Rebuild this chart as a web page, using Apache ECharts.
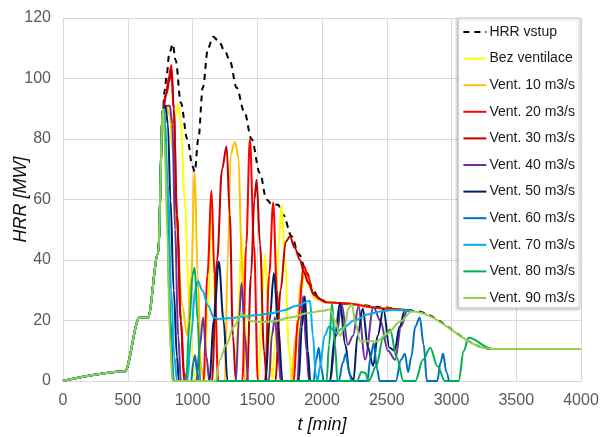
<!DOCTYPE html>
<html>
<head>
<meta charset="utf-8">
<script src="https://cdn.jsdelivr.net/npm/echarts@6/dist/echarts.min.js"></script>
<style>
  html, body { margin: 0; padding: 0; background: #fff; }
  #chart { width: 601px; height: 437px; }
</style>
</head>
<body>
<div id="chart"></div>
<script>
// x axis ticks and y axis ticks
const xTicks = [0, 500, 1000, 1500, 2000, 2500, 3000, 3500, 4000];
const yTicks = [0, 20, 40, 60, 80, 100, 120];

// shared growth phase [t, HRR]
const rampUp = [[0, 0], [476, 3.1], [592, 21], [656, 21], [734, 42], [772, 90]];

// shared plateau after the oscillations
const plateau = [[2030, 26], [2150, 25.8], [2480, 24], [2694, 23.2]];

const hrrInput = [[785, 96], [800, 101], [820, 108], [847, 111.4], [870, 106], [910, 92], [960, 80],
  [1000, 71], [1017, 69.2], [1045, 80], [1080, 97], [1120, 110], [1159, 113.8], [1200, 112.5],
  [1250, 109], [1288, 106], [1340, 97], [1400, 89], [1456, 80], [1520, 68.8], [1572, 60],
  [1610, 58.5], [1660, 58.3], [1700, 55], [1766, 47.8], [1820, 42], [1882, 35.8], [1930, 30],
  [1980, 27], [2030, 26], [2250, 25.3], [2480, 24.3], [2694, 23.2], [3313, 10.6], [4000, 10.6]];

const noVent = [[790, 91], [825, 90], [845, 84], [870, 88], [890, 91.6], [910, 85], [940, 60],
  [975, 25], [1000, 8], [1020, 0], [1090, 0], [1120, 25], [1147, 56], [1175, 25], [1200, 0],
  [1330, 0], [1355, 25], [1379, 48], [1405, 25], [1425, 0], [1510, 0], [1535, 25], [1559, 42],
  [1590, 20], [1615, 0], [1635, 10], [1665, 45], [1688, 58], [1715, 40], [1745, 10], [1770, 0],
  [1800, 10], [1840, 30], [1868, 37], [1900, 31], [1950, 27]];

const vent10 = [[790, 91], [825, 88], [850, 75], [880, 50], [920, 25], [960, 15], [990, 35],
  [1017, 69], [1040, 35], [1065, 5], [1090, 0], [1250, 0], [1272, 40], [1295, 75], [1327, 79],
  [1355, 74], [1380, 40], [1405, 0], [1760, 0], [1800, 15], [1840, 33], [1870, 37], [1900, 32],
  [1940, 28]];

const vent20 = [[795, 95], [815, 100], [837, 104.5], [855, 90], [880, 55], [910, 20], [935, 3],
  [950, 0], [1085, 0], [1115, 35], [1147, 63], [1170, 35], [1198, 0], [1385, 0], [1415, 45],
  [1443, 80], [1475, 45], [1505, 0], [1560, 0], [1592, 35], [1623, 59], [1652, 30], [1680, 0],
  [1780, 0], [1815, 20], [1860, 38], [1890, 35], [1930, 29], [1980, 27]];

const vent30 = [[800, 95], [820, 99], [837, 103], [855, 90], [880, 55], [910, 20], [935, 0],
  [1150, 0], [1190, 40], [1228, 70], [1263, 77.5], [1288, 55], [1312, 15], [1335, 0], [1420, 0],
  [1452, 35], [1478, 60], [1495, 66.5], [1522, 45], [1552, 10], [1575, 0], [1640, 0], [1680, 30],
  [1720, 46], [1752, 47.8], [1790, 44], [1830, 40], [1860, 36], [1894, 32.4], [1940, 28.5],
  [1998, 26.9], [2030, 26]];

const vent40 = [[800, 91], [825, 91], [845, 85], [865, 50], [890, 15], [910, 0], [1030, 0],
  [1058, 12], [1082, 21], [1108, 8], [1130, 0], [1335, 0], [1358, 20], [1379, 32.4], [1405, 15],
  [1430, 0], [1590, 0], [1613, 15], [1636, 21], [1660, 10], [1685, 0], [1810, 0], [1833, 18],
  [1855, 28], [1880, 10], [1900, 0], [2060, 0], [2110, 15], [2152, 25.3], [2200, 12], [2240, 15],
  [2281, 24.7], [2333, 7.1], [2397, 24.5], [2450, 20], [2510, 10], [2565, 7], [2610, 18],
  [2660, 23.5], [2694, 23.2]];

const vent50 = [[790, 91], [810, 85], [830, 60], [855, 30], [880, 8], [895, 0], [1130, 0],
  [1165, 20], [1203, 39.5], [1240, 20], [1270, 0], [1565, 0], [1595, 20], [1629, 35.7],
  [1662, 18], [1695, 0], [1820, 0], [1845, 18], [1868, 28], [1890, 10], [1910, 0], [2060, 0],
  [2100, 15], [2139, 25.8], [2180, 12], [2215, 2], [2242, 0], [2275, 15], [2315, 24], [2355, 11],
  [2395, 5], [2430, 15], [2474, 23.8], [2521, 11], [2560, 10], [2600, 18], [2640, 23.5],
  [2694, 23.2]];

const vent60 = [[785, 88], [805, 55], [830, 20], [855, 0], [990, 0], [1005, 6], [1020, 8.5],
  [1035, 3], [1050, 0], [1935, 0], [1955, 7], [1975, 11], [1995, 4], [2015, 0], [2130, 0],
  [2160, 6], [2185, 9], [2210, 3], [2230, 0], [2350, 0], [2375, 8], [2400, 12.5], [2425, 4],
  [2445, 0], [2570, 0], [2610, 7], [2640, 9], [2665, 3], [2690, 8], [2720, 18], [2755, 21],
  [2785, 12], [2810, 0], [2890, 0], [2915, 6], [2935, 9], [2960, 3], [2980, 0]];

const vent70 = [[785, 88], [810, 65], [835, 30], [860, 8], [880, 0], [960, 0], [990, 15],
  [1020, 30], [1043, 33], [1075, 30], [1120, 25], [1165, 21], [1200, 20.5], [1300, 20.8],
  [1400, 21.3], [1500, 21.8], [1600, 22.3], [1700, 23.3], [1800, 24.8], [1907, 26.5], [1930, 15],
  [1952, 2], [1965, 0], [1985, 5], [2020, 15], [2055, 18], [2110, 16], [2160, 17.5], [2250, 20],
  [2350, 22], [2450, 23], [2550, 23.5], [2694, 23.2]];

const vent80 = [[785, 85], [802, 60], [822, 25], [840, 5], [855, 0], [950, 0], [978, 20],
  [1000, 35], [1017, 37.4], [1040, 20], [1060, 0], [2035, 0], [2055, 12], [2077, 25.7], [2100, 12],
  [2120, 0], [2270, 0], [2305, 3], [2333, 2.7], [2360, 0], [2420, 5], [2470, 14], [2526, 17],
  [2575, 8], [2630, 0], [2720, 0], [2780, 7], [2836, 11], [2890, 5], [2950, 0], [3055, 0],
  [3095, 10], [3132, 14.3], [3313, 10.6], [4000, 10.6]];

const vent90 = [[785, 80], [805, 50], [825, 15], [845, 0], [1180, 0], [1211, 7], [1260, 12],
  [1320, 18], [1380, 22], [1417, 21.5], [1443, 19.8], [1520, 19.5], [1623, 19.7], [1750, 21],
  [1900, 22.5], [2000, 23.2], [2062, 23.6], [2100, 20], [2139, 15], [2175, 18], [2204, 24],
  [2230, 25.3], [2260, 19], [2294, 13.1], [2423, 13.1], [2500, 15.5], [2600, 19.5], [2694, 23],
  [3313, 10.6], [4000, 10.6]];

const seriesNames = ['HRR vstup', 'Bez ventilace', 'Vent. 10 m3/s', 'Vent. 20 m3/s', 'Vent. 30 m3/s',
  'Vent. 40 m3/s', 'Vent. 50 m3/s', 'Vent. 60 m3/s', 'Vent. 70 m3/s', 'Vent. 80 m3/s', 'Vent. 90 m3/s'];

const seriesData = [
  rampUp.concat(hrrInput),
  rampUp.concat(noVent, plateau),
  rampUp.concat(vent10, plateau),
  rampUp.concat(vent20, plateau),
  rampUp.concat(vent30),
  rampUp.concat(vent40),
  rampUp.concat(vent50),
  rampUp.concat(vent60),
  rampUp.concat(vent70),
  rampUp.concat(vent80),
  rampUp.concat(vent90)
];

const colors = ['#000000', '#FFFF00', '#FFC000', '#FF0000', '#C00000', '#7030A0',
  '#002060', '#0070C0', '#00B0F0', '#00B050', '#92D050'];

const chart = echarts.init(document.getElementById('chart'));

const series = seriesNames.map((name, i) => ({
  name: name,
  type: 'line',
  data: seriesData[i],
  showSymbol: false,
  symbol: 'none',
  smooth: 0.35,
  smoothMonotone: 'x',
  animation: false,
  lineStyle: {
    color: colors[i],
    width: 2,
    type: i === 0 ? [6, 5] : 'solid'
  },
  itemStyle: { color: colors[i] }
}));

chart.setOption({
  animation: false,
  textStyle: { fontFamily: 'Liberation Sans, Arial, sans-serif' },
  grid: { left: 63, right: 20, top: 18, bottom: 56, outerBoundsMode: 'none', containLabel: false },
  legend: {
    orient: 'vertical',
    right: 21,
    top: 18,
    padding: [7, 5, 3, 4],
    itemGap: 12.6,
    itemWidth: 23,
    itemHeight: 14,
    backgroundColor: '#ffffff',
    borderColor: '#d0d0d0',
    borderWidth: 1,
    shadowColor: 'rgba(0,0,0,0.25)',
    shadowBlur: 3,
    shadowOffsetX: -1,
    shadowOffsetY: 1,
    itemStyle: { opacity: 0 },
    textStyle: { fontSize: 14, color: '#1a1a1a', padding: [0, 0, 0, -2] },
    data: seriesNames
  },
  xAxis: {
    type: 'value',
    min: xTicks[0],
    max: xTicks[xTicks.length - 1],
    interval: 500,
    name: 't [min]',
    nameLocation: 'middle',
    nameGap: 35,
    nameMoveOverlap: false,
    nameTextStyle: { fontSize: 18, fontStyle: 'italic', color: '#0d0d0d' },
    axisLine: { show: true, lineStyle: { color: '#d9d9d9', width: 1 } },
    axisTick: { show: false },
    axisLabel: { fontSize: 16, color: '#595959', margin: 12, formatter: v => String(v) },
    splitLine: { show: true, lineStyle: { color: '#d9d9d9', width: 1 } }
  },
  yAxis: {
    type: 'value',
    min: yTicks[0],
    max: yTicks[yTicks.length - 1],
    interval: 20,
    name: 'HRR [MW]',
    nameLocation: 'middle',
    nameGap: 33,
    nameMoveOverlap: false,
    nameTextStyle: { fontSize: 18, fontStyle: 'italic', color: '#0d0d0d' },
    axisLine: { show: true, lineStyle: { color: '#d9d9d9', width: 1 } },
    axisTick: { show: false },
    axisLabel: { fontSize: 16, color: '#595959', margin: 12, formatter: v => String(v) },
    splitLine: { show: true, lineStyle: { color: '#d9d9d9', width: 1 } }
  },
  series: series
});
</script>
</body>
</html>
